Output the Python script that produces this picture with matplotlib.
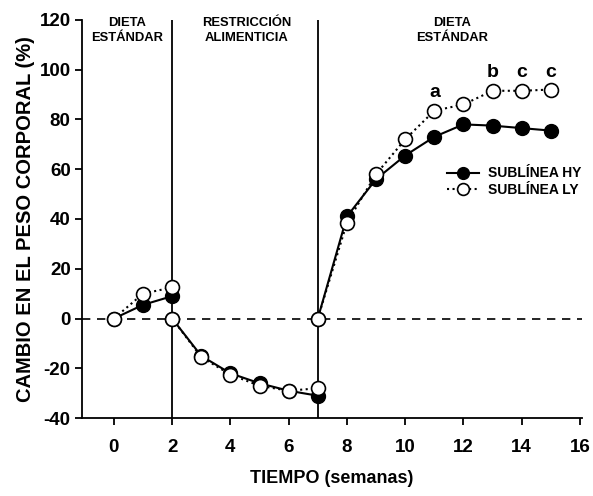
import matplotlib
matplotlib.use("Agg")
import matplotlib.pyplot as plt

plt.rcParams['font.family'] = ['Liberation Sans', 'DejaVu Sans']
plt.rcParams['font.weight'] = 'bold'
plt.rcParams['axes.unicode_minus'] = False

# Phase segments (x in weeks)
x_p1 = [0, 1, 2]
x_p2 = [2, 3, 4, 5, 6, 7]
x_p3 = [7, 8, 9, 10, 11, 12, 13, 14, 15]

hy_p1 = [0, 5.5, 9]
hy_p2 = [0, -15, -22, -26, -29, -31]
hy_p3 = [0, 41, 56, 65.5, 73, 78, 77.5, 76.5, 75.5]

ly_p1 = [0, 10, 12.5]
ly_p2 = [0, -15.5, -22.5, -27, -29, -28]
ly_p3 = [0, 38.5, 58, 72, 83.5, 86, 91.5, 91.5, 92]

sig_x = [11, 13, 14, 15]
sig_lbl = ['a', 'b', 'c', 'c']
sig_y = [91, 99, 99, 99]

phase_lbl = ['DIETA\nESTÁNDAR', 'RESTRICCIÓN\nALIMENTICIA', 'DIETA\nESTÁNDAR']
phase_x = [0.45, 4.55, 11.6]
bounds = [2, 7]

fig = plt.figure(figsize=(5.93, 4.96), dpi=100)
ax = fig.add_axes([0.138, 0.157, 0.843, 0.803])

ax.axhline(0, color='black', lw=1.2, ls=(0, (5, 4)), zorder=1)
for b in bounds:
    ax.axvline(b, color='black', lw=1.3, zorder=1)

for xs, ys in [(x_p1, hy_p1), (x_p2, hy_p2), (x_p3, hy_p3)]:
    ax.plot(xs, ys, '-o', color='black', lw=1.5, ms=10, mfc='black', mec='black', zorder=3,
            label='SUBLÍNEA HY' if xs is x_p1 else None)
for xs, ys in [(x_p1, ly_p1), (x_p2, ly_p2), (x_p3, ly_p3)]:
    ax.plot(xs, ys, ':o', color='black', lw=1.5, ms=10, mfc='white', mec='black', mew=1.2, zorder=4,
            label='SUBLÍNEA LY' if xs is x_p1 else None)

for x, y, t in zip(sig_x, sig_y, sig_lbl):
    ax.text(x, y, t, ha='center', va='center', fontsize=14, fontweight='bold')

for x, t in zip(phase_x, phase_lbl):
    ax.text(x, 121, t, ha='center', va='top', fontsize=9.4, fontweight='bold', linespacing=1.3)

ax.set_xlim(-1.1, 16.06)
ax.set_ylim(-40, 120)
ax.set_xticks(range(0, 17, 2))
ax.set_yticks(range(-40, 121, 20))
ax.tick_params(axis='x', labelsize=13.5, width=1.3, length=5, direction='out', pad=10)
ax.tick_params(axis='y', labelsize=13.5, width=1.3, length=5, direction='out', pad=3)
for lab in ax.get_xticklabels() + ax.get_yticklabels():
    lab.set_fontweight('bold')
ax.spines['top'].set_visible(False)
ax.spines['right'].set_visible(False)
ax.spines['left'].set_linewidth(1.3)
ax.spines['bottom'].set_linewidth(1.3)

ax.set_xlabel('TIEMPO (semanas)', fontsize=13, fontweight='bold', labelpad=10)
ax.set_ylabel('CAMBIO EN EL PESO CORPORAL (%)', fontsize=14.5, fontweight='bold', labelpad=3)

ax.legend(loc='upper left', bbox_to_anchor=(0.73, 0.632), frameon=False,
          handlelength=2.3, handletextpad=0.65, labelspacing=0.2,
          borderpad=0, borderaxespad=0, markerscale=0.85,
          prop={'weight': 'bold', 'size': 10})

fig.savefig('out.png', dpi=100)
